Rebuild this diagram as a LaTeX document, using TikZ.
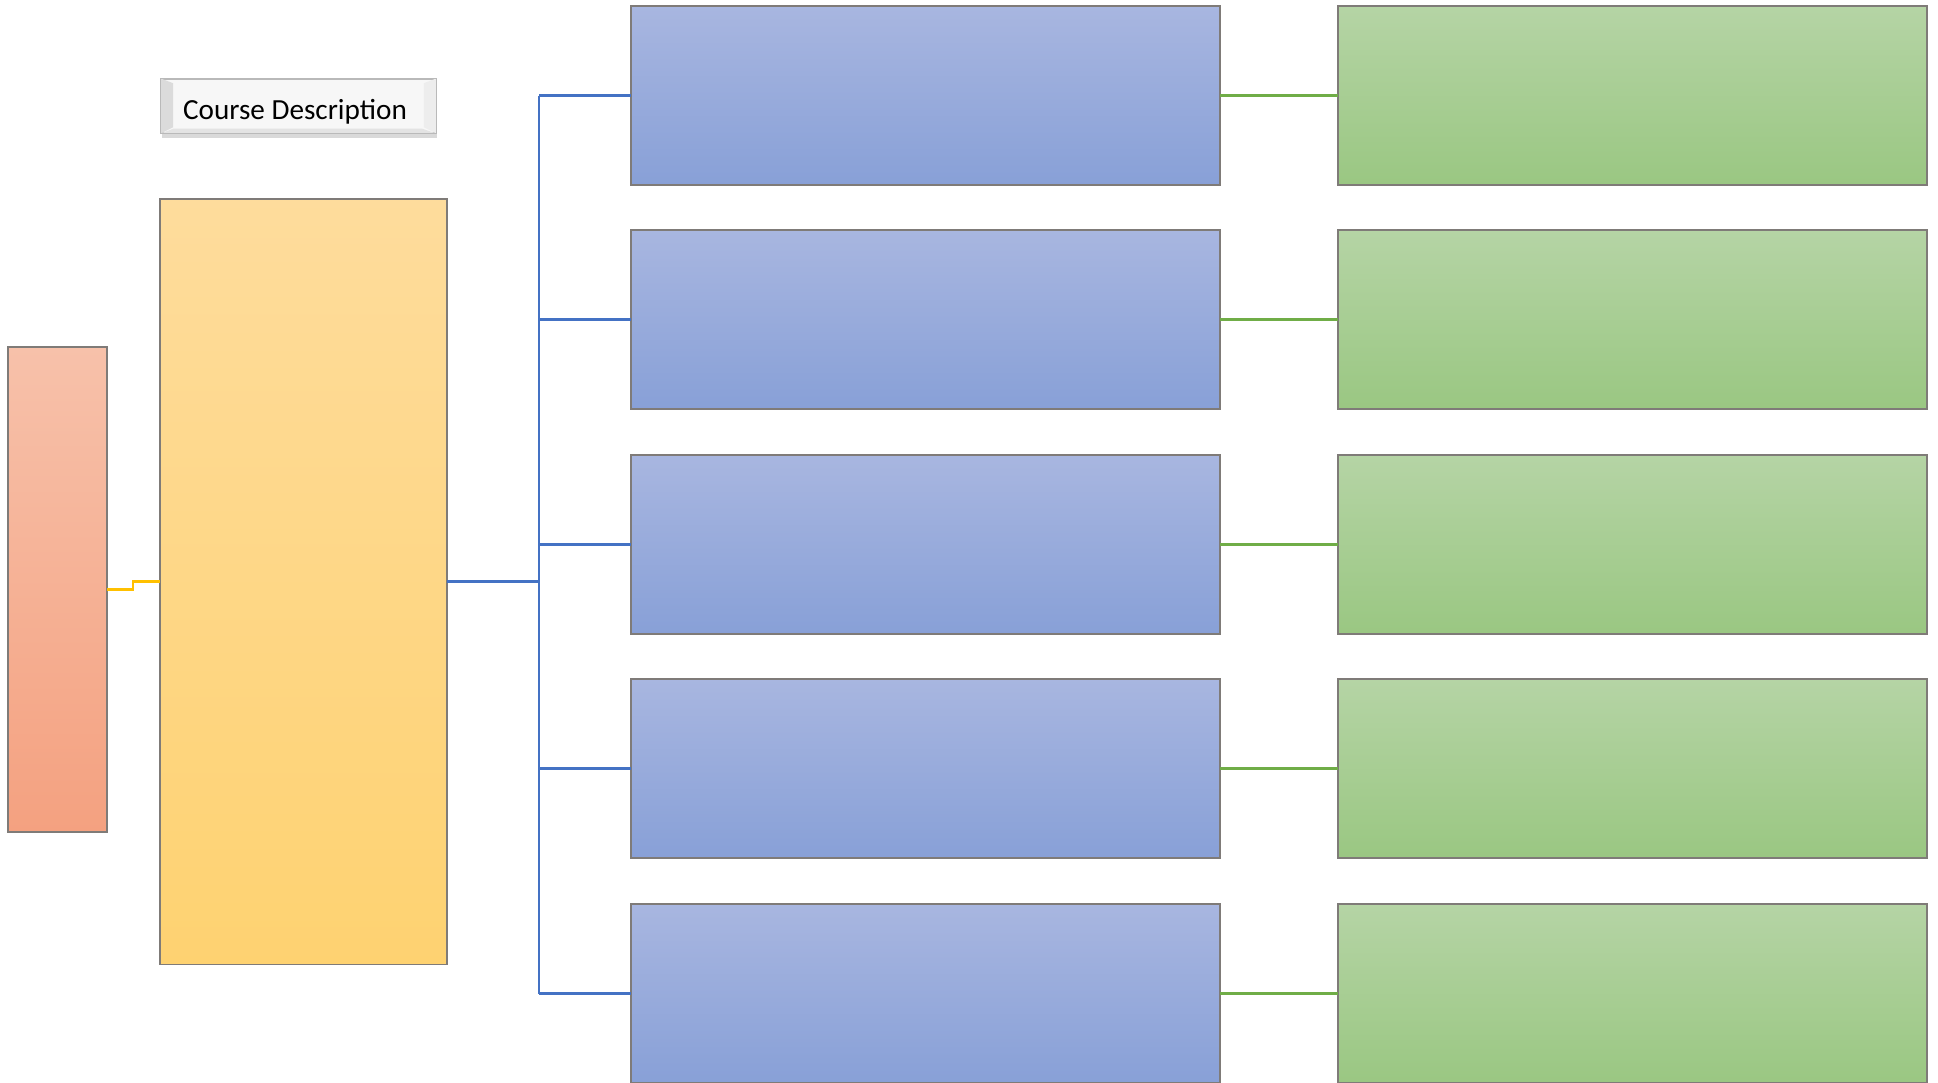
\documentclass[tikz,border=0pt]{standalone}
\usepackage{fontspec}
\setmainfont{Carlito}
\usepackage{xcolor}
\usetikzlibrary{shadows}

\definecolor{orangetop}{HTML}{F7C1AA}
\definecolor{orangebot}{HTML}{F4A180}
\definecolor{yellowtop}{HTML}{FEDC9C}
\definecolor{yellowbot}{HTML}{FED271}
\definecolor{bluetop}{HTML}{A8B6E0}
\definecolor{bluebot}{HTML}{88A0D7}
\definecolor{greentop}{HTML}{B5D4A5}
\definecolor{greenbot}{HTML}{9AC782}
\definecolor{edgegray}{HTML}{7F7B78}
\definecolor{blueline}{HTML}{4472C4}
\definecolor{greenline}{HTML}{70AD47}
\definecolor{orangeline}{HTML}{FFC000}

\begin{document}
\begin{tikzpicture}[x=0.01cm, y=-0.01cm,
    box/.style={draw=edgegray, line width=0.5pt, inner sep=0pt, outer sep=0pt, anchor=north west},
    bluebox/.style={box, top color=bluetop, bottom color=bluebot, minimum width=5.89cm, minimum height=1.79cm},
    greenbox/.style={box, top color=greentop, bottom color=greenbot, minimum width=5.89cm, minimum height=1.79cm},
    bluelink/.style={blueline, line width=0.8pt},
    greenlink/.style={greenline, line width=0.8pt}]
        \useasboundingbox (0,0) rectangle (1938,1083);

        % left columns
        \node[box, top color=orangetop, bottom color=orangebot, minimum width=0.99cm, minimum height=4.85cm] (side) at (8,347) {};
        \node[box, top color=yellowtop, bottom color=yellowbot, minimum width=2.87cm, minimum height=7.65cm] (desc) at (160,199) {};

        % title button
        \node[draw=gray!55, fill=gray!6, line width=0.4pt, minimum width=2.75cm, minimum height=0.54cm, inner sep=0pt,
              drop shadow={opacity=0.3, shadow xshift=0.3pt, shadow yshift=-1.3pt}] (title) at (298.5,106) {};
        \fill[gray!28] (title.north west) -- ++(13,5) -- ++(0,44) -- (title.south west) -- cycle;
        \fill[gray!14] (title.north east) -- ++(-13,5) -- ++(0,44) -- (title.south east) -- cycle;
        \fill[gray!22] (title.south west) -- ++(13,-5) -- ++(249,0) -- (title.south east) -- cycle;
        \draw[gray!55, line width=0.4pt] (title.north west) rectangle (title.south east);
        \node[font=\fontsize{8.3}{10}\selectfont, inner sep=0pt] (titletext) at (295,112) {Course Description};

        % middle column
        \node[bluebox] (b1) at (631,6) {};
        \node[bluebox] (b2) at (631,230) {};
        \node[bluebox] (b3) at (631,455) {};
        \node[bluebox] (b4) at (631,679) {};
        \node[bluebox] (b5) at (631,904) {};

        % right column
        \node[greenbox] (g1) at (1338,6) {};
        \node[greenbox] (g2) at (1338,230) {};
        \node[greenbox] (g3) at (1338,455) {};
        \node[greenbox] (g4) at (1338,679) {};
        \node[greenbox] (g5) at (1338,904) {};

        % links
        \coordinate (trunk) at (539,582);
        \draw[orangeline, line width=0.8pt] (side.east) -- ++(26,0) |- (desc.west);
        \draw[bluelink] (desc.east) -- (desc.east -| trunk);
        \draw[bluelink] (trunk |- b1.west) -- (trunk |- b5.west);
        \draw[bluelink] (trunk |- b1.west) -- (b1.west);
        \draw[bluelink] (trunk |- b2.west) -- (b2.west);
        \draw[bluelink] (trunk |- b3.west) -- (b3.west);
        \draw[bluelink] (trunk |- b4.west) -- (b4.west);
        \draw[bluelink] (trunk |- b5.west) -- (b5.west);
        \draw[greenlink] (b1.east) -- (g1.west);
        \draw[greenlink] (b2.east) -- (g2.west);
        \draw[greenlink] (b3.east) -- (g3.west);
        \draw[greenlink] (b4.east) -- (g4.west);
        \draw[greenlink] (b5.east) -- (g5.west);
    \end{tikzpicture}
\end{document}
